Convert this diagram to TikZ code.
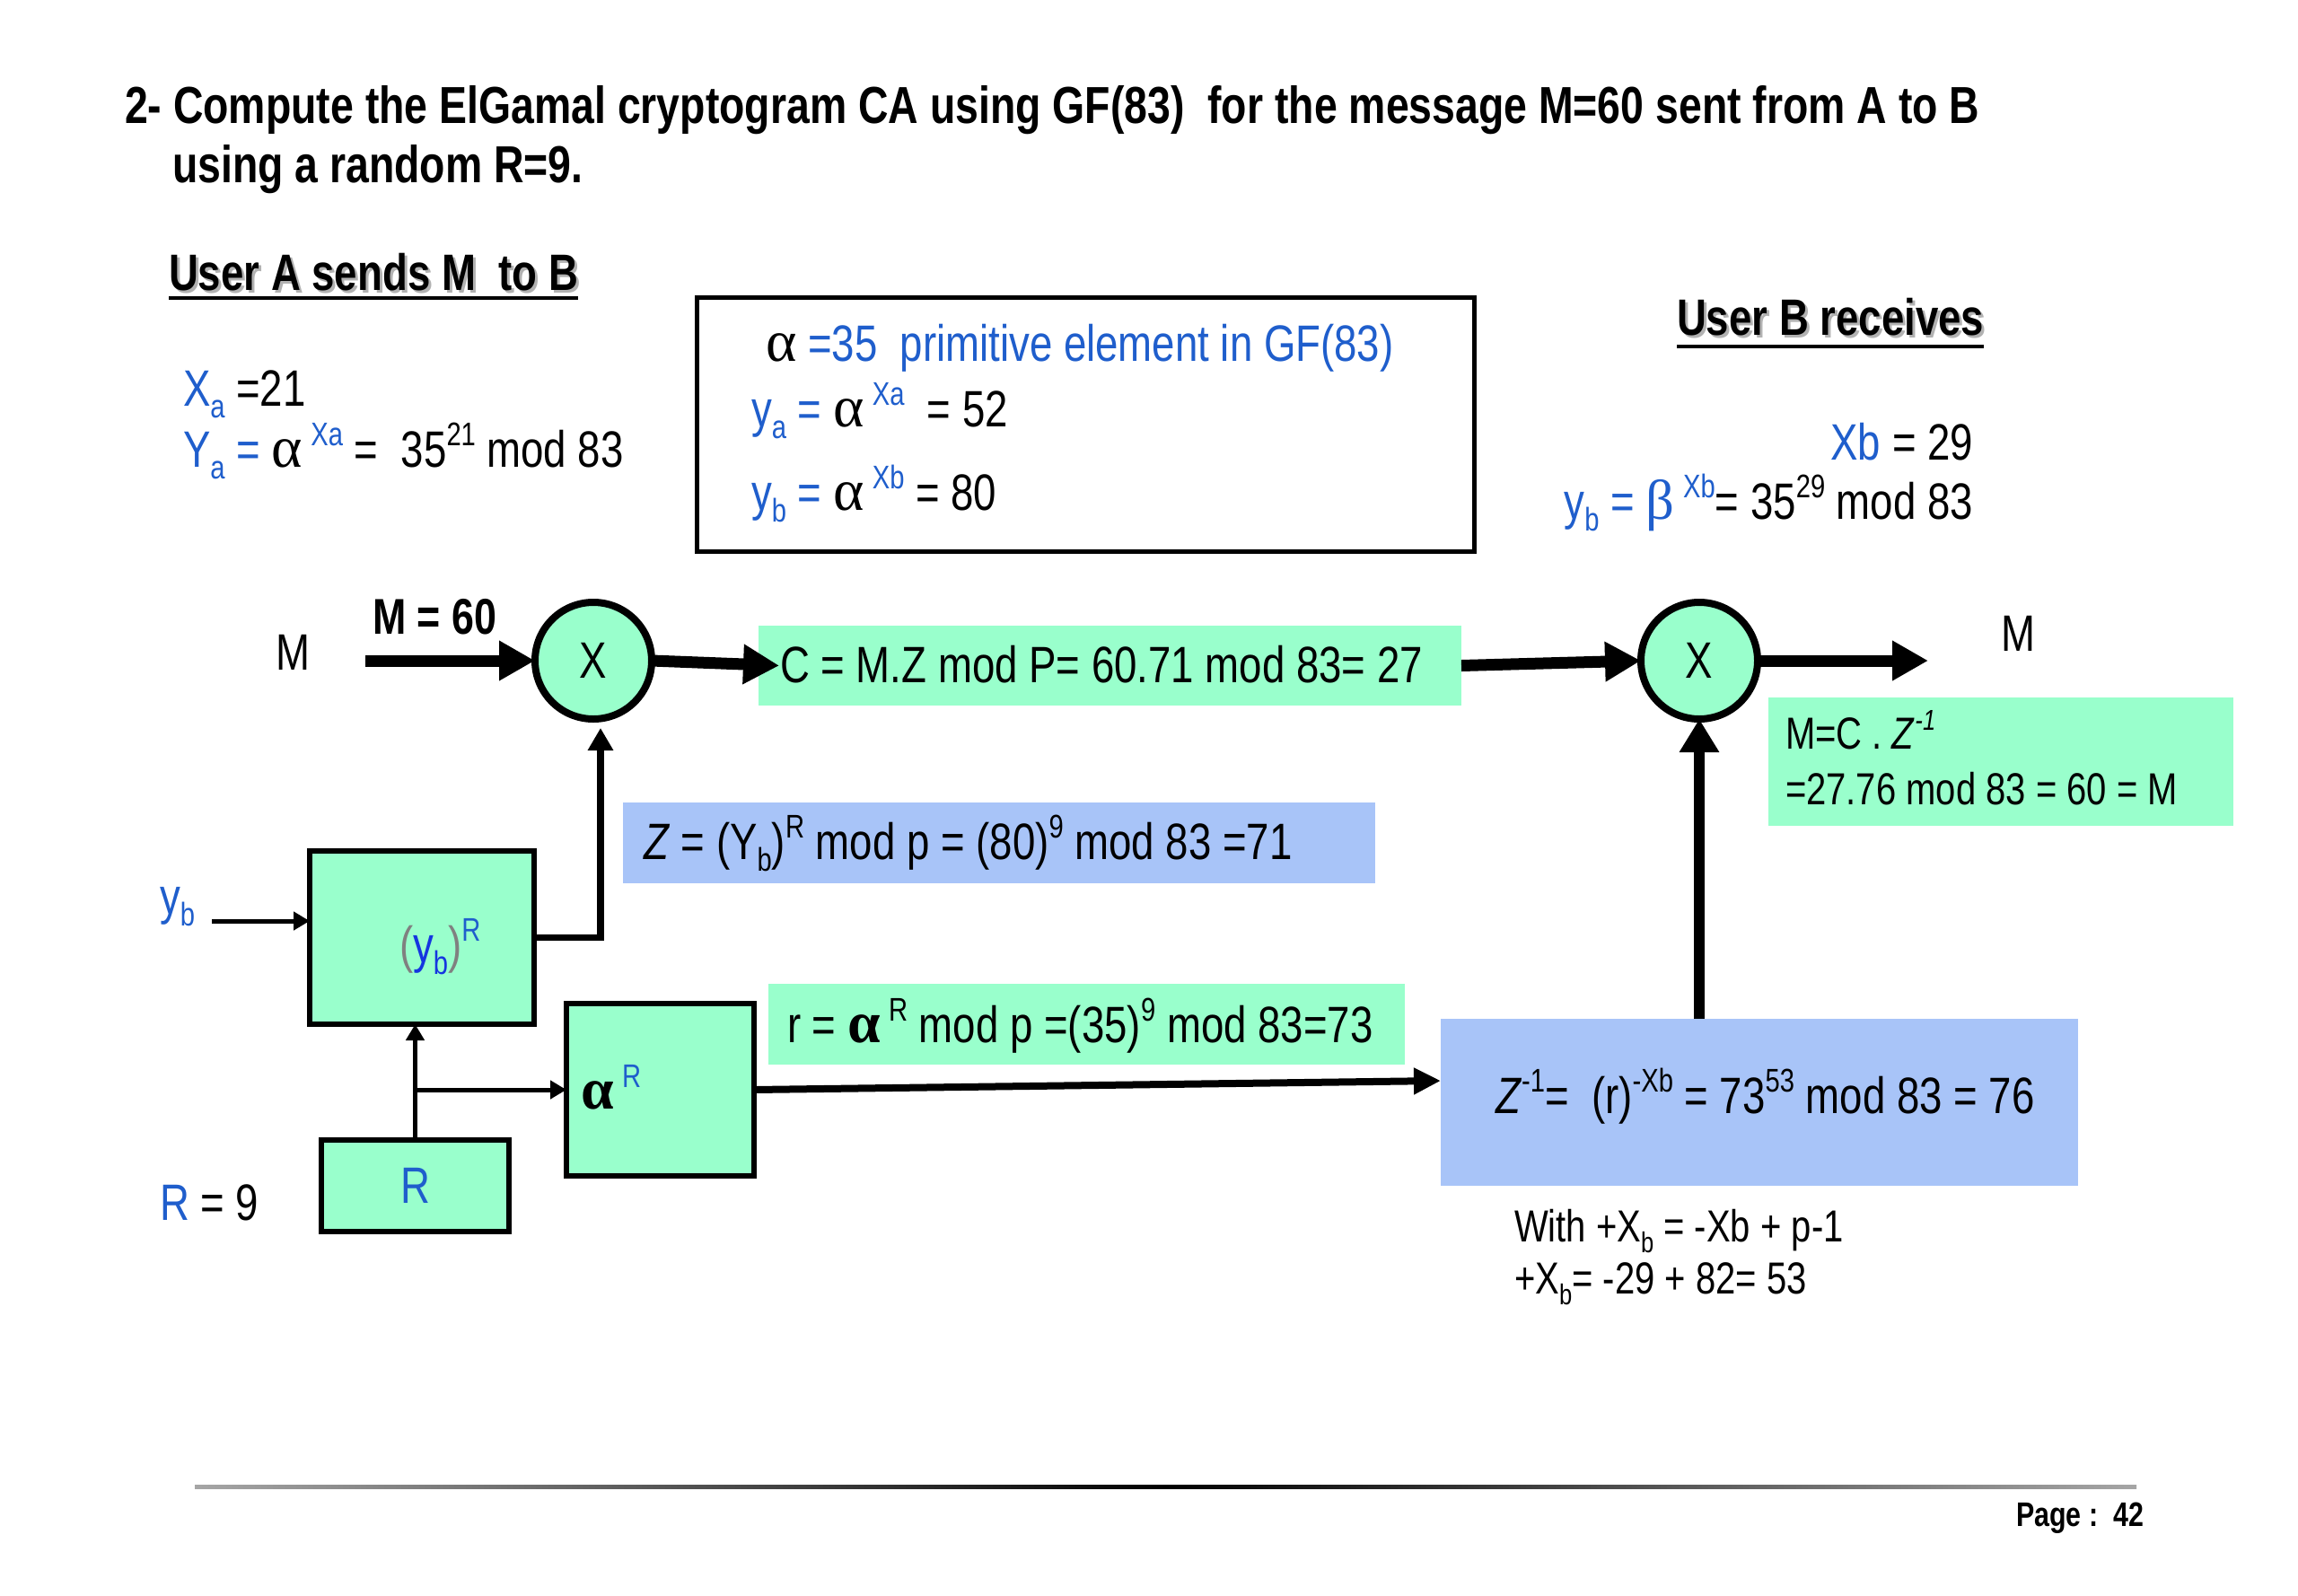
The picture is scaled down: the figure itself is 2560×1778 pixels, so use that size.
\documentclass[tikz,border=0pt]{standalone}
\usepackage{fontspec}
\setmainfont[FakeStretch=0.8]{Liberation Sans}
\newfontfamily\grk{Liberation Serif}
\usepackage{graphicx}
\usetikzlibrary{arrows.meta,calc}
\definecolor{mint}{HTML}{99FFCC}
\definecolor{skyb}{HTML}{A8C4F8}
\definecolor{tblue}{HTML}{1F5ECC}
\definecolor{dblue}{HTML}{1535E0}
\newcommand\fs[1]{\fontsize{#1}{#1}\selectfont}
\newcommand\supx[1]{\raisebox{.42em}{\scalebox{.64}{#1}}}
\newcommand\subx[1]{\raisebox{-.24em}{\scalebox{.64}{#1}}}
\newcommand\al{\scalebox{1.15}{\grk α}}
\newcommand\alb{\scalebox{1.15}{\grk\bfseries α}}
\newcommand\be{\scalebox{1.1}{\grk β}}
\begin{document}
\begin{tikzpicture}[x=1pt,y=-1pt,
  every node/.style={inner sep=0pt,outer sep=0pt},
  txt/.style={anchor=base west,font=\fs{57}},
  txtr/.style={anchor=base east,font=\fs{57}},
  head/.style={anchor=base west,font={\fs{58}\bfseries}},
  greenbox/.style={rectangle,fill=mint},
  bluebox/.style={rectangle,fill=skyb},
  blockbox/.style={rectangle,fill=mint,draw=black,line width=6pt},
  mult/.style={circle,fill=mint,draw=black,line width=8pt,minimum size=130pt,font=\fs{57}},
  bigarrow/.style={line width=13pt,-{Triangle[length=40pt,width=42pt]}},
  uparrow/.style={line width=12pt,-{Triangle[length=37pt,width=42pt]}},
  midarrow/.style={line width=7.5pt,-{Triangle[length=25pt,width=27pt]}},
  thinarrow/.style={line width=5pt,-{Triangle[length=18pt,width=20pt]}},
  longarrow/.style={line width=8pt,-{Triangle[length=30pt,width=28pt]}}]
\fill[white] (0,0) rectangle (2560,1778);
\useasboundingbox (0,0) rectangle (2560,1778);

% title
\node[head] (t1) at (139,137) {2- Compute the ElGamal cryptogram CA using GF(83)\ \ for the message M=60 sent from A to B};
\node[head] (t2) at (192,203) {using a random R=9.};

% user A heading
\node[head,font={\fs{57}\bfseries},text=black!30] (uas) at (191,326) {User A sends M\ \ to B};
\node[head,font={\fs{57}\bfseries}] (ua) at (188,323) {User A sends M\ \ to B};
\draw[line width=4pt] ($(ua.base west)+(0,9)$) -- ($(ua.base east)+(0,9)$);
% user B heading
\node[head,font={\fs{57}\bfseries},text=black!30] (ubs) at (1871,376) {User B receives};
\node[head,font={\fs{57}\bfseries}] (ub) at (1868,373) {User B receives};
\draw[line width=4pt] ($(ub.base west)+(0,13)$) -- ($(ub.base east)+(0,13)$);

% user A keys
\node[txt] (xa) at (204,452) {\textcolor{tblue}{X\subx{a}} =21};
\node[txt] (ya) at (204,520) {\textcolor{tblue}{Y\subx{a} =} \al\,\textcolor{tblue}{\supx{Xa}} =\ \ 35\supx{21} mod 83};

% info box
\node[rectangle,draw=black,line width=5pt,minimum width=866pt,minimum height=283pt] (info) at (1209,472.5) {};
\node[txt] (ib1) at (853,402) {\al\ \textcolor{tblue}{=35\ \ primitive element in GF(83)}};
\node[txt] (ib2) at (837,475) {\textcolor{tblue}{y\subx{a} =} \al\,\textcolor{tblue}{\supx{Xa}}\ \ = 52};
\node[txt] (ib3) at (837,568) {\textcolor{tblue}{y\subx{b} =} \al\,\textcolor{tblue}{\supx{Xb}} = 80};

% user B keys
\node[txtr] (xb) at (2198,512) {\textcolor{tblue}{Xb} = 29};
\node[txtr] (yb) at (2198,578) {\textcolor{tblue}{y\subx{b} = \be\,\supx{Xb}}= 35\supx{29} mod 83};

% boxes
\node[greenbox,minimum width=783pt,minimum height=89pt] (cbox) at (1236.5,741.5) {};
\node[bluebox,minimum width=838pt,minimum height=90pt] (zbox) at (1113,939) {};
\node[greenbox,minimum width=709pt,minimum height=90pt] (rbox) at (1210.5,1141) {};
\node[greenbox,minimum width=518pt,minimum height=143pt] (mcbox) at (2229,848.5) {};
\node[bluebox,minimum width=710pt,minimum height=186pt] (zinv) at (1960,1228) {};
\node[blockbox,minimum width=250pt,minimum height=193pt] (ybr) at (470,1044.5) {};
\node[blockbox,minimum width=209pt,minimum height=192pt] (alr) at (735.5,1214) {};
\node[blockbox,minimum width=209pt,minimum height=102pt,font=\fs{57},text=tblue] (rb) at (462.5,1321) {R};

% multipliers
\node[mult] (c1) at (661,736) {X};
\node[mult] (c2) at (1893,736) {X};

% texts in the flow
\node[txt] (mlab) at (307,746) {M};
\node[head,font={\fs{56}\bfseries}] (m60) at (415,706) {M = 60};
\node[txt] (ctext) at (869,760) {C = M.Z mod P= 60.71 mod 83= 27};
\node[txt] (mout) at (2229,725) {M};
\node[txt,font=\fs{50}] (mc1) at (1989,834) {M=C . \textit{Z}\supx{\textit{-1}}};
\node[txt,font=\fs{50}] (mc2) at (1989,896) {=27.76 mod 83 = 60 = M};
\node[txt] (ztext) at (717,957) {\textit{Z} = (Y\subx{b})\supx{R} mod p = (80)\supx{9} mod 83 =71};
\node[txt] (yblab) at (178,1018) {\textcolor{tblue}{y\subx{b}}};
\node[txt] (ybrt) at (445,1072) {\textcolor{gray}{(}\textcolor{dblue}{y\subx{b}}\textcolor{gray}{)}\textcolor{tblue}{\supx{R}}};
\node[txt] (rtext) at (877,1161) {r = \alb\,\supx{R} mod p =(35)\supx{9} mod 83=73};
\node[txt] (alrt) at (647,1235) {\alb\,\textcolor{tblue}{\supx{R}}};
\node[txt] (r9) at (178,1359) {\textcolor{tblue}{R} = 9};
\node[txt] (zinvt) at (1666,1240) {\textit{Z}\supx{-1}=\ \ (r)\supx{-Xb} = 73\supx{53} mod 83 = 76};
\node[txt,font=\fs{50}] (w1) at (1687,1383) {With +X\subx{b} = -Xb + p-1};
\node[txt,font=\fs{50}] (w2) at (1687,1441) {+X\subx{b}= -29 + 82= 53};

% connectors
\coordinate (min) at (407,736);
\draw[bigarrow] (min) -- (c1.west);
\draw[bigarrow] (c1.east) -- ($(cbox.west)+(23,0)$);
\draw[bigarrow] (cbox.east) -- (c2.west);
\coordinate (outm) at (2148,736);
\draw[bigarrow] (c2.east) -- (outm);
\draw[uparrow] (zinv.north -| c2) -- (c2.south);
\coordinate (ybin) at (236,1026);
\draw[thinarrow] (ybin) -- (ybin -| ybr.west);
\draw[midarrow,shorten >=10pt] (ybr.east) -| ($(c1.south)+(8,0)$);
\draw[thinarrow] (rb.north) -- (rb.north |- ybr.south);
\draw[thinarrow] (rb.north |- alr.west) -- (alr.west);
\draw[longarrow] (alr.east) -- ($(zinv.west)+(0,-24)$);

% footer
\shade[left color=gray!70,right color=gray!70,middle color=black] (217,1654) rectangle (2380,1658);
\node[head,font={\fs{38}\bfseries}] (page) at (2246,1700) {Page :\ \ 42};
\end{tikzpicture}
\end{document}
